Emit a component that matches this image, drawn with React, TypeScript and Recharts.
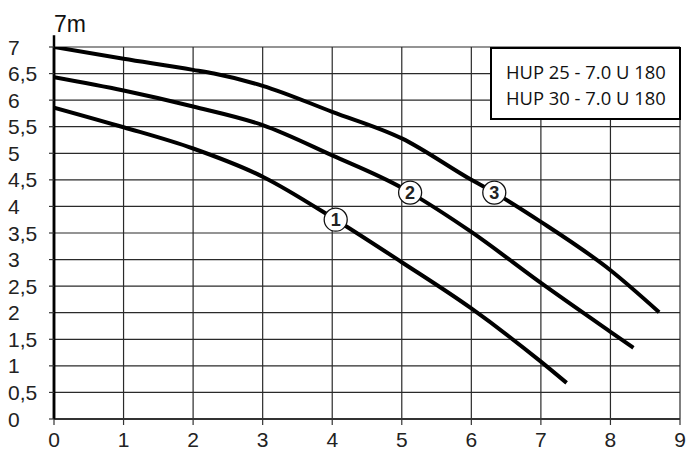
import React from 'react';
import { LineChart, Line, XAxis, YAxis, CartesianGrid, ReferenceLine } from 'recharts';

// pump curves: flow (m3/h) vs head (m)
const flow1 = [0, 1, 2, 3, 4.05, 5, 6, 7, 7.37];
const head1 = [5.86, 5.49, 5.09, 4.56, 3.75, 2.95, 2.08, 1.08, 0.68];

const flow2 = [0, 1, 2, 3, 4, 5, 5.12, 6, 7, 8, 8.33];
const head2 = [6.43, 6.18, 5.88, 5.53, 4.96, 4.35, 4.26, 3.52, 2.56, 1.64, 1.34];

const flow3 = [0, 1, 2, 2.3, 3, 4, 5, 6, 6.33, 7, 8, 8.7];
const head3 = [7.0, 6.78, 6.57, 6.5, 6.27, 5.78, 5.28, 4.5, 4.26, 3.71, 2.8, 2.01];

const curveNames = ['1', '2', '3'];
const labelFlows = [4.05, 5.12, 6.33];

const xTicks = [0, 1, 2, 3, 4, 5, 6, 7, 8, 9];
const yTicks = [0, 0.5, 1, 1.5, 2, 2.5, 3, 3.5, 4, 4.5, 5, 5.5, 6, 6.5, 7];
const yUnit = '7m';
const legendLines = ['HUP 25 - 7.0 U 180', 'HUP 30 - 7.0 U 180'];

const toPoints = (q: number[], h: number[]) => q.map((v, i) => ({ q: v, h: h[i] }));
const series = [toPoints(flow1, head1), toPoints(flow2, head2), toPoints(flow3, head3)];

const tickFont = '"Liberation Sans", Arial, sans-serif';

const YTick = (props: any) => {
  const { y, payload } = props;
  return (
    <text x={8} y={y} dy="0.36em" fontSize={21} fill="#222" fontFamily={tickFont}>
      {String(payload.value).replace('.', ',')}
    </text>
  );
};

const makeDot = (idx: number) => (props: any) => {
  const { cx, cy, payload, index } = props;
  if (payload.q !== labelFlows[idx]) return <g key={`d-${idx}-${index}`} />;
  return (
    <g key={`d-${idx}-${index}`}>
      <circle cx={cx} cy={cy} r={11.5} fill="#fff" stroke="#111" strokeWidth={1.3} />
      <text
        x={cx}
        y={cy}
        dy="0.36em"
        textAnchor="middle"
        fontSize={18}
        fontWeight="bold"
        fill="#222"
        fontFamily={tickFont}
      >
        {curveNames[idx]}
      </text>
    </g>
  );
};

export default function App() {
  return (
    <div style={{ position: 'absolute', left: 0, top: 0, width: 689, height: 451, background: '#fff' }}>
      <LineChart width={689} height={451} margin={{ top: 47, right: 9, left: 0, bottom: 0 }}>
        <CartesianGrid stroke="#2a2a2a" strokeWidth={1.2} />
        <XAxis
          dataKey="q"
          type="number"
          domain={[0, 9]}
          ticks={xTicks}
          height={32}
          tickSize={6}
          tickMargin={7}
          axisLine={{ stroke: '#333', strokeWidth: 2 }}
          tickLine={{ stroke: '#333', strokeWidth: 1.2 }}
          tick={{ fontSize: 21, fill: '#222', fontFamily: tickFont }}
          allowDataOverflow
        />
        <YAxis
          dataKey="h"
          type="number"
          domain={[0, 7]}
          ticks={yTicks}
          width={54}
          tickSize={5}
          axisLine={{ stroke: '#000', strokeWidth: 2.5 }}
          tickLine={{ stroke: '#333', strokeWidth: 1.2 }}
          tick={<YTick />}
          interval={0}
          allowDataOverflow
        />
        <ReferenceLine
          segment={[{ x: 0, y: 0 }, { x: 0, y: 7.22 }]}
          stroke="#000"
          strokeWidth={2.5}
          ifOverflow="visible"
        />
        {series.map((pts, i) => (
          <Line
            key={curveNames[i]}
            data={pts}
            dataKey="h"
            type="monotone"
            stroke="#000"
            strokeWidth={4}
            dot={makeDot(i)}
            activeDot={false}
            isAnimationActive={false}
          />
        ))}
      </LineChart>
      <svg width={120} height={40} style={{ position: 'absolute', left: 0, top: 0 }}>
        <text x={54} y={32.3} fontSize={23} fill="#111" fontFamily={tickFont}>
          {yUnit}
        </text>
      </svg>
      <div
        style={{
          position: 'absolute',
          left: 490,
          top: 47,
          width: 191,
          height: 73,
          boxSizing: 'border-box',
          border: '2.5px solid #000',
          background: '#fff',
          paddingTop: 10,
          paddingLeft: 14,
          fontFamily: '"Open Sans", "Noto Sans", sans-serif',
          fontSize: 18.4,
          lineHeight: '25.6px',
          color: '#111',
          whiteSpace: 'nowrap',
        }}
      >
        {legendLines.map((t) => (
          <div key={t}>{t}</div>
        ))}
      </div>
    </div>
  );
}
